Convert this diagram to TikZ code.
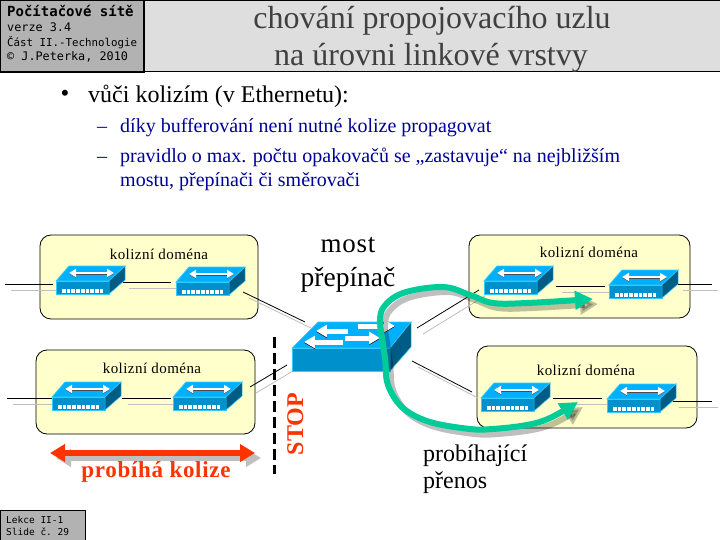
\documentclass[tikz,border=0pt]{standalone}
\usepackage{fontspec}
\setmainfont{Liberation Serif}
\setmonofont{DejaVu Sans Mono}
\usepackage{xcolor}
\usetikzlibrary{arrows.meta, calc, positioning}

\definecolor{swtop}{HTML}{00B0FF}
\definecolor{swfront}{HTML}{0090CC}
\definecolor{swside}{HTML}{005C85}
\definecolor{swedge}{HTML}{33CCFF}
\definecolor{domainfill}{HTML}{FFFFCC}
\definecolor{flowgreen}{HTML}{00CC99}
\definecolor{hotred}{HTML}{FF3300}
\definecolor{subblue}{HTML}{000099}

\newcommand{\fsz}[1]{\fontsize{#1}{#1}\selectfont}

\tikzset{
    smallswitch/.pic={
        \fill[swtop, draw=swedge, line width=0.7pt] (0,0) -- (13,-15) -- (69,-15) -- (53,0) -- cycle;
        \fill[swfront, draw=swedge, line width=0.7pt] (0,0) rectangle (53,13);
        \fill[swside, draw=swedge, line width=0.5pt] (53,0) -- (69,-15) -- (69,-1) -- (53,13) -- cycle;
        \foreach \i in {0,...,8}
            \fill[white] ({6+\i*4.7},8) rectangle ++(3.7,4);
        \draw[black!70, line width=2pt, {Triangle[length=7pt,width=8pt]}-{Triangle[length=7pt,width=8pt]}] (13,-7.4) -- (58,-7.4);
        \draw[white, line width=2pt, {Triangle[length=7pt,width=8pt]}-{Triangle[length=7pt,width=8pt]}] (13,-8) -- (58,-8);
    },
    bigswitch/.pic={
        \fill[swtop, draw=swedge, line width=0.7pt] (0,0) -- (26,-26) -- (119,-26) -- (98,0) -- cycle;
        \fill[swfront, draw=swedge, line width=0.7pt] (0,0) rectangle (98,23);
        \fill[swside, draw=swedge, line width=0.5pt] (98,0) -- (119,-26) -- (119,-1) -- (98,23) -- cycle;
        \foreach \a/\b/\c in {56/24/-17, 51/12/-6, 66/103/-22, 53/88/-10} {
            \draw[black, line width=5pt, -{Triangle[length=11pt,width=12pt]}] (\a,\c+0.7) -- (\b,\c+0.7);
            \draw[white, line width=5pt, -{Triangle[length=11pt,width=12pt]}] (\a,\c) -- (\b,\c);
        }
    }
}

\newcommand{\wire}[2]{
    \draw[wireshade] ($(#1)+(6,6)$) -- ($(#2)+(6,6)$);
    \draw[wireline] (#1) -- (#2);
}

\begin{document}
\begin{tikzpicture}[
    x=1pt, y=-1pt,
    domainbox/.style={draw=black, fill=domainfill, line width=0.8pt, rounded corners=11pt},
    domainlabel/.style={anchor=base, inner sep=0pt, font=\fsz{15}\addfontfeature{LetterSpace=3}},
    wireline/.style={draw=black, line width=0.8pt},
    wireshade/.style={draw=black!25, line width=0.8pt},
    headbox/.style={draw=black, line width=1pt, fill=black!30},
    headtext/.style={anchor=base west, inner sep=0pt, font=\ttfamily\fsz{11.8}},
    titletext/.style={anchor=base, inner sep=0pt, text=black!75, font=\fsz{32}},
    subtext/.style={anchor=base west, inner sep=0pt, text=subblue, font=\fsz{20}},
    flow/.style={draw=flowgreen, line width=6pt, -{Triangle[length=18pt,width=18pt]}},
    flowshade/.style={draw=black, opacity=0.25, line width=6pt, -{Triangle[length=18pt,width=18pt]}},
    hotarrow/.style={line width=5.5pt, {Triangle[length=15pt,width=17pt]}-{Triangle[length=15pt,width=17pt]}}
]
    \useasboundingbox (0,0) rectangle (720,540);
    \fill[white] (0,0) rectangle (720,540);

    % Header
    \path[fill=black!13, draw=black, line width=1pt] (144,0.5) rectangle (720,72);
    \path[headbox, line width=2pt] (0,0.5) rectangle (143.5,72);
    \node[headtext, font=\ttfamily\bfseries\fsz{14}] (course) at (7,17) {Počítačové sítě};
    \node[headtext] (version) at (7,32) {verze 3.4};
    \node[headtext, font=\ttfamily\fsz{10.8}] (part) at (7,47) {Část II.-Technologie};
    \node[headtext] (author) at (7,61) {© J.Peterka, 2010};
    \node[titletext] (title1) at (432,29) {chování propojovacího uzlu};
    \node[titletext] (title2) at (431,66) {na úrovni linkové vrstvy};

    % Bullets
    \node[anchor=center, inner sep=0pt, font=\fsz{25}] (dot) at (65,96) {•};
    \node[anchor=base west, inner sep=0pt, font=\fsz{24}] (bullet) at (88,103) {vůči kolizím (v Ethernetu):};
    \node[subtext] (dash1) at (97,133) {–};
    \node[subtext] (sub1) at (120,133) {díky bufferování není nutné kolize propagovat};
    \node[subtext] (dash2) at (97,163) {–};
    \node[subtext] (sub2) at (120,163) {pravidlo o max. počtu opakovačů se „zastavuje“ na nejbližším};
    \node[subtext] (sub3) at (120,187) {mostu, přepínači či směrovači};

    % Domains
    \draw[domainbox] (40,235) rectangle (258,319);
    \draw[domainbox] (36,350) rectangle (255,434);
    \draw[domainbox] (469,235) rectangle (690,318);
    \draw[domainbox] (477,346) rectangle (697,428);
    \node[domainlabel] (dom1) at (159,259) {kolizní doména};
    \node[domainlabel] (dom2) at (152,373) {kolizní doména};
    \node[domainlabel] (dom3) at (589,257) {kolizní doména};
    \node[domainlabel] (dom4) at (586,375) {kolizní doména};

    % Wire ends
    \coordinate (a0) at (5,284);
    \coordinate (a1) at (53,284);
    \coordinate (a2) at (123,282);
    \coordinate (a3) at (171,282);
    \coordinate (a4) at (243,292);
    \coordinate (a5) at (305,322);
    \coordinate (b0) at (7,398);
    \coordinate (b1) at (52,398);
    \coordinate (b2) at (122,398);
    \coordinate (b3) at (171,398);
    \coordinate (b4) at (250,387);
    \coordinate (b5) at (287,365);
    \coordinate (c0) at (417,328);
    \coordinate (c1) at (479,290);
    \coordinate (c2) at (556,286);
    \coordinate (c3) at (605,286);
    \coordinate (c4) at (677,284);
    \coordinate (c5) at (712,284);
    \coordinate (d0) at (412,361);
    \coordinate (d1) at (472,392);
    \coordinate (d2) at (553,398);
    \coordinate (d3) at (602,398);
    \coordinate (d4) at (673,401);
    \coordinate (d5) at (712,401);

    % Wires
    \wire{a0}{a1}
    \wire{a2}{a3}
    \wire{a4}{a5}
    \wire{b0}{b1}
    \wire{b2}{b3}
    \wire{b4}{b5}
    \wire{c0}{c1}
    \wire{c2}{c3}
    \wire{c4}{c5}
    \wire{d0}{d1}
    \wire{d2}{d3}
    \wire{d4}{d5}

    % Switches
    \pic at (56,281) {smallswitch};
    \pic at (176,282) {smallswitch};
    \pic at (52,397) {smallswitch};
    \pic at (173,397) {smallswitch};
    \pic at (484,281) {smallswitch};
    \pic at (609,285) {smallswitch};
    \pic at (481,398) {smallswitch};
    \pic at (607,399) {smallswitch};
    \pic at (292,348) {bigswitch};

    % Labels
    \node[anchor=base, inner sep=0pt, font=\fsz{27}\addfontfeature{LetterSpace=3}] (bridge) at (348,252) {most};
    \node[anchor=base, inner sep=0pt, font=\fsz{27.5}] (switchlabel) at (348,286) {přepínač};
    \node[anchor=base west, inner sep=0pt, font=\fsz{24}] (transfer1) at (423,461) {probíhající};
    \node[anchor=base west, inner sep=0pt, font=\fsz{24}] (transfer2) at (423,488) {přenos};

    % Flows
    \begin{scope}[shift={(5,5)}]
        \draw[flowshade] plot[smooth, tension=0.6] coordinates {(380,325) (383,308) (403,293) (443,287) (470,295) (493,303) (527,303) (593,299)};
        \draw[flowshade] plot[smooth, tension=0.6] coordinates {(380,325) (385,358) (388,385) (403,408) (430,422) (470,429) (493,429) (527,425) (550,418) (578,402)};
    \end{scope}
    \draw[flow] plot[smooth, tension=0.6] coordinates {(380,325) (383,308) (403,293) (443,287) (470,295) (493,303) (527,303) (593,299)};
    \draw[flow] plot[smooth, tension=0.6] coordinates {(380,325) (385,358) (388,385) (403,408) (430,422) (470,429) (493,429) (527,425) (550,418) (578,402)};

    % Collision
    \coordinate (hotl) at (50,453);
    \coordinate (hotr) at (255,453);
    \draw[hotarrow, draw=black!25, fill=black!25] ($(hotl)+(6,5)$) -- ($(hotr)+(6,5)$);
    \draw[hotarrow, draw=hotred, fill=hotred] (hotl) -- (hotr);
    \node[anchor=base, inner sep=0pt, text=hotred, font=\bfseries\fsz{23}\addfontfeature{LetterSpace=3}] (collision) at (156,477) {probíhá kolize};

    % Stop
    \coordinate (stopa) at (274,337);
    \coordinate (stopb) at (274,474);
    \draw[black, line width=3pt, dash pattern=on 11pt off 5pt] (stopa) -- (stopb);
    \node[rotate=90, anchor=base, inner sep=0pt, text=hotred, font=\bfseries\fsz{24}] (stop) at (303,424) {STOP};

    % Footer
    \path[headbox] (0.5,510) rectangle (85,540);
    \node[headtext, font=\ttfamily\fsz{9.5}] (lesson) at (6,523) {Lekce II-1};
    \node[headtext, font=\ttfamily\fsz{9.5}] (slide) at (6,535) {Slide č. 29};
\end{tikzpicture}
\end{document}
